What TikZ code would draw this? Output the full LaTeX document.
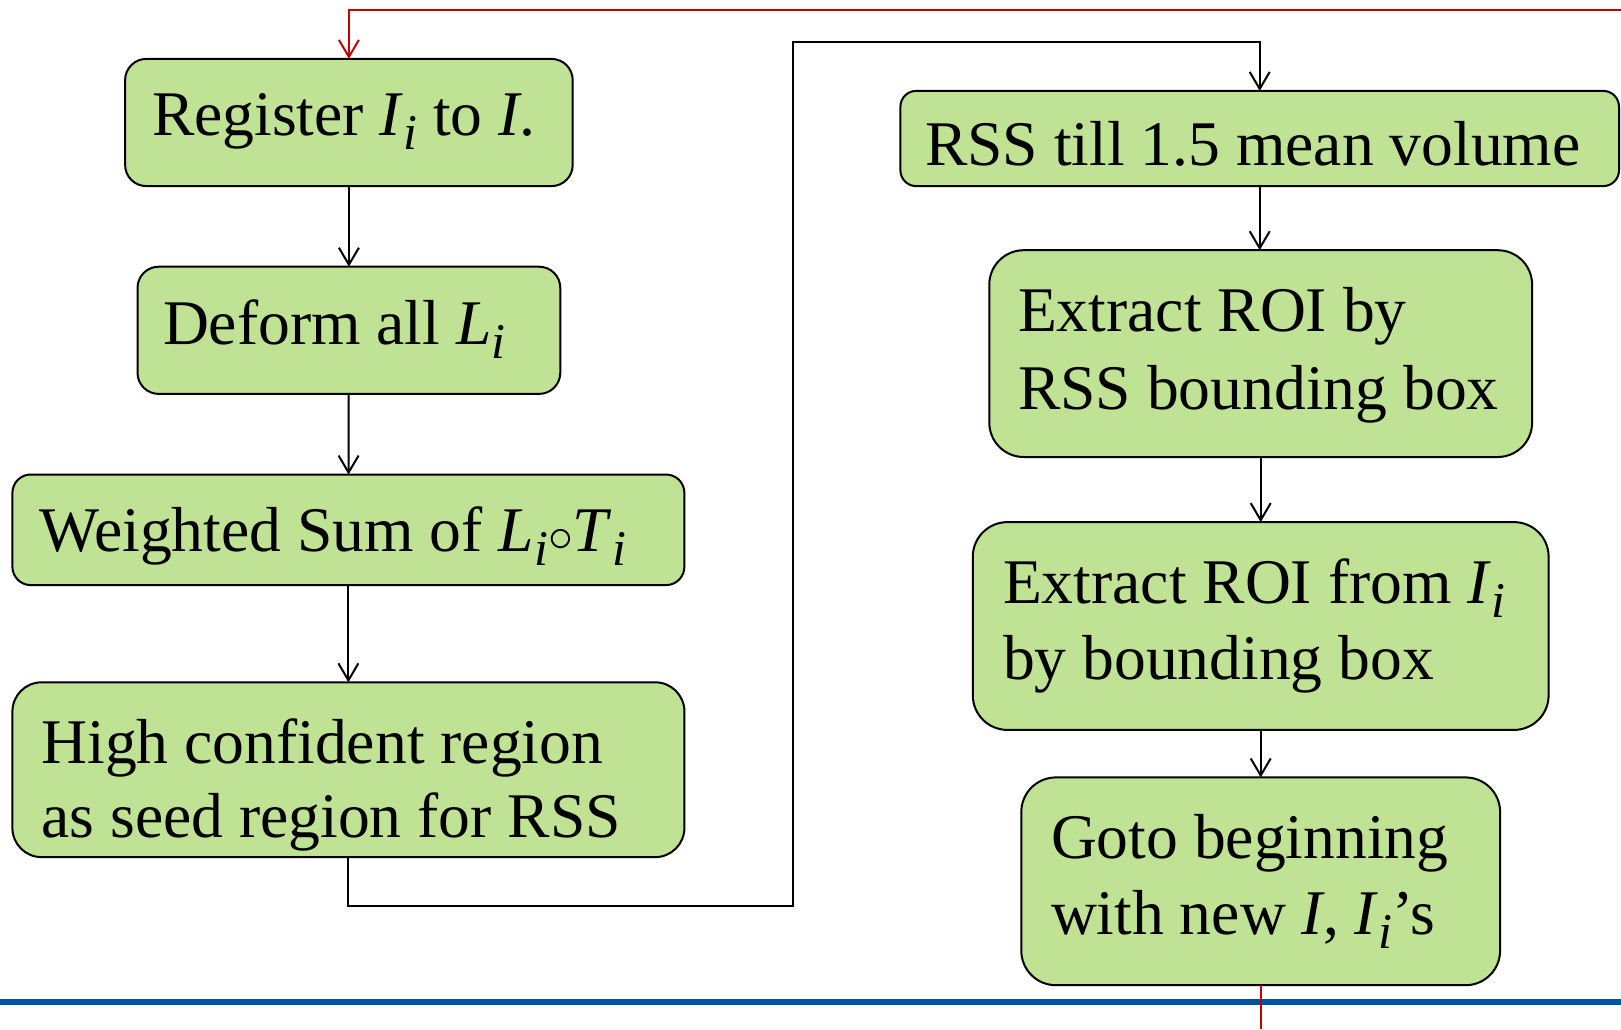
\documentclass[tikz,border=0pt]{standalone}
\usepackage{fontspec}
\setmainfont{Liberation Serif}
\usetikzlibrary{arrows.meta}
\definecolor{boxgreen}{RGB}{192,226,148}
\definecolor{loopred}{RGB}{196,0,0}
\definecolor{barblue}{RGB}{0,82,165}
\newcommand{\sbi}{\raisebox{-0.22em}{\fontsize{25}{25}\selectfont\itshape i}}
\begin{document}
\begin{tikzpicture}[x=0.5pt,y=-0.5pt,
  flowbox/.style={draw=black,line width=1pt,fill=boxgreen,rectangle,inner sep=0pt,outer sep=0pt},
  txt/.style={anchor=base west,inner sep=0pt,outer sep=0pt,font=\fontsize{31.8pt}{38pt}\selectfont},
  flowarrow/.style={draw=black,line width=1pt,-{Straight Barb[length=8.5pt,width=10pt,line width=1pt]}},
  redline/.style={draw=loopred,line width=1pt},
  bluebar/.style={draw=barblue,line width=3pt}]
\useasboundingbox (0,0) rectangle (1621,1029);
% boxes
\node[flowbox,minimum width=223.8pt,minimum height=63.6pt,rounded corners=10.6pt] (b1) at (348.9,122.5) {};
\node[flowbox,minimum width=211.4pt,minimum height=63.6pt,rounded corners=10.6pt] (b2) at (348.9,330.3) {};
\node[flowbox,minimum width=336pt,minimum height=55.3pt,rounded corners=9.2pt] (b3) at (348.4,529.8) {};
\node[flowbox,minimum width=336pt,minimum height=87.4pt,rounded corners=14.6pt] (b4) at (348.4,769.7) {};
\node[flowbox,minimum width=359.3pt,minimum height=47.6pt,rounded corners=7.9pt] (b5) at (1259.7,138.5) {};
\node[flowbox,minimum width=271.4pt,minimum height=103.4pt,rounded corners=17.2pt] (b6) at (1260.7,353.6) {};
\node[flowbox,minimum width=287.9pt,minimum height=103.9pt,rounded corners=17.3pt] (b7) at (1260.7,626) {};
\node[flowbox,minimum width=239.4pt,minimum height=103.9pt,rounded corners=17.3pt] (b8) at (1260.7,881.3) {};
% texts
\node[txt] (t1) at (152,135.4) {Register \textit{I}\sbi{} to \textit{I}.};
\node[txt] (t2) at (163,344) {Deform all \textit{L}\sbi};
\node[txt] (t3) at (39.3,551) {Weighted Sum of \textit{L}\sbi$\circ$\textit{T}\sbi};
\node[txt] (t4a) at (41.4,763) {High confident region};
\node[txt] (t4b) at (41.4,837) {as seed region for RSS};
\node[txt] (t5) at (925,165.4) {RSS till 1.5 mean volume};
\node[txt] (t6a) at (1018,331) {Extract ROI by};
\node[txt] (t6b) at (1018,409) {RSS bounding box};
\node[txt] (t7a) at (1003,603) {Extract ROI from \textit{I}\sbi};
\node[txt] (t7b) at (1003,679) {by bounding box};
\node[txt] (t8a) at (1051,858) {Goto beginning};
\node[txt] (t8b) at (1051,934.6) {with new \textit{I}, \textit{I}\sbi’s};
% connectors
\draw[flowarrow] (b1) -- (b2);
\draw[flowarrow] (b2) -- (b3);
\draw[flowarrow] (b3.south) -- (b4.north);
\coordinate (c1) at (793,905.6);
\coordinate (c2) at (793,42.4);
\draw[flowarrow] (b4.south) |- (c1) -- (c2) -| (b5.north);
\draw[flowarrow] (b5.south) -- (b6.north -| b5.south);
\draw[flowarrow] (b6) -- (b7);
\draw[flowarrow] (b7) -- (b8);
% blue bar
\coordinate (bl) at (0,1002);
\coordinate (br) at (1621,1002);
\draw[bluebar] (bl) -- (br);
% red loop
\coordinate (rb) at (1260.7,1029);
\coordinate (rt) at (1621,10.3);
\draw[redline] (b8.south) -- (rb);
\draw[redline,-{Straight Barb[length=8.5pt,width=10pt,line width=1pt]}] (rt) -| (b1.north);
\end{tikzpicture}
\end{document}
